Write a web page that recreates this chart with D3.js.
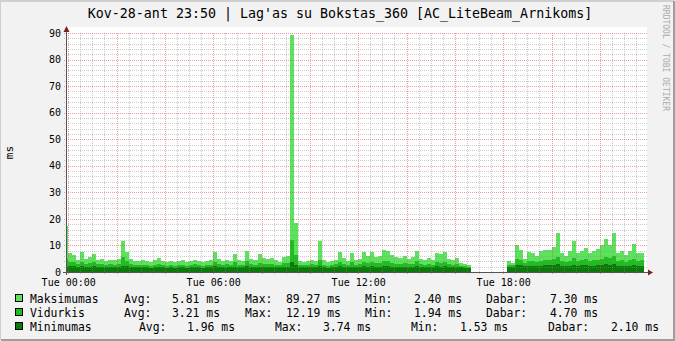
<!DOCTYPE html>
<html>
<head>
<meta charset="utf-8">
<script src="https://cdn.jsdelivr.net/npm/d3@7"></script>
<style>
  body { margin: 0; background: #f2f2f2; }
  svg { display: block; }
  text { font-family: "DejaVu Sans Mono", monospace; }
</style>
</head>
<body>
<div id="chart"></div>
<script>
// Samples every 10 minutes, first one starts at 23:50 the day before
const firstSample = new Date(2023, 2, 27, 23, 50);
const stepMinutes = 10;

const maxValues = [
  17.5,
  7.2, 6.5, 4.6, 7.4, 4.8, 5.5, 6.7, 4.5, 5.0, 4.2, 4.6, 4.4,
  5.0, 11.5, 7.5, 4.8, 4.2, 4.0, 4.6, 4.2, 3.8, 4.4, 5.4, 4.0,
  3.8, 4.2, 3.6, 4.0, 4.4, 3.8, 4.2, 4.6, 4.0, 3.6, 4.2, 4.6,
  7.4, 4.8, 4.2, 4.6, 4.0, 6.8, 4.4, 4.0, 7.8, 5.0, 4.4, 6.8,
  5.4, 4.8, 5.2, 4.4, 3.8, 5.8, 6.0, 89.27, 18.5, 4.2, 3.8, 4.0,
  4.7, 4.0, 11.6, 4.4, 3.6, 4.0, 4.6, 7.6, 5.2, 4.2, 7.2, 4.4,
  5.0, 7.6, 6.2, 7.4, 5.8, 6.0, 8.4, 8.0, 6.4, 5.6, 5.2, 6.0,
  5.0, 5.6, 8.0, 5.0, 4.6, 5.4, 4.4, 7.2, 6.6, 7.4, 5.0, 4.6,
  5.2, 3.4, 3.0, 2.6, null, null, null, null, null, null, null, null,
  null, 4.0, 3.4, 10.0, 8.4, 5.0, 7.6, 7.2, 6.0, 7.8, 8.2, 8.4,
  9.6, 14.6, 7.2, 6.2, 7.8, 11.6, 7.2, 7.8, 9.0, 7.2, 7.8, 8.6,
  10.0, 12.5, 10.3, 14.5, 7.2, 7.8, 6.5, 7.8, 10.7, 7.2, 7.3, null
];

const avgValues = [
  5.0,
  3.8, 3.6, 3.0, 3.8, 3.2, 3.4, 3.6, 3.0, 3.2, 2.8, 3.0, 2.8,
  3.0, 5.5, 4.0, 3.0, 2.8, 2.6, 2.8, 2.6, 2.4, 2.8, 3.2, 2.6,
  2.4, 2.6, 2.3, 2.5, 2.8, 2.4, 2.6, 2.9, 2.5, 2.3, 2.6, 2.8,
  3.8, 3.0, 2.6, 2.9, 2.6, 3.6, 2.8, 2.6, 4.0, 3.1, 2.8, 3.5,
  3.2, 3.0, 3.1, 2.8, 2.5, 3.3, 3.4, 12.19, 6.5, 2.8, 2.5, 2.6,
  2.9, 2.6, 4.5, 2.8, 2.4, 2.6, 2.9, 3.8, 3.1, 2.7, 3.6, 2.8,
  3.0, 3.8, 3.4, 3.7, 3.3, 3.4, 4.2, 4.0, 3.5, 3.2, 3.0, 3.4,
  3.0, 3.2, 4.0, 3.0, 2.8, 3.1, 2.7, 3.7, 3.5, 3.8, 3.0, 2.8,
  3.0, 2.4, 2.2, 1.94, null, null, null, null, null, null, null, null,
  null, 2.8, 2.5, 4.8, 4.4, 3.4, 4.2, 4.0, 3.6, 4.3, 4.5, 4.4,
  4.8, 5.6, 4.0, 3.8, 4.3, 5.2, 4.2, 4.4, 4.8, 4.1, 4.4, 4.6,
  5.0, 5.6, 5.2, 6.0, 4.2, 4.4, 3.9, 4.4, 5.0, 4.3, 4.7, null
];

const minValues = [
  2.0,
  2.2, 2.1, 1.9, 2.2, 2.0, 2.0, 2.1, 1.9, 1.9, 1.8, 1.9, 1.8,
  1.9, 2.4, 2.1, 1.8, 1.8, 1.7, 1.8, 1.7, 1.6, 1.8, 1.9, 1.7,
  1.6, 1.7, 1.6, 1.7, 1.8, 1.6, 1.7, 1.8, 1.7, 1.6, 1.7, 1.8,
  2.1, 1.9, 1.7, 1.8, 1.7, 2.0, 1.8, 1.7, 2.1, 1.9, 1.8, 2.0,
  1.9, 1.9, 1.9, 1.8, 1.7, 2.0, 2.0, 3.74, 2.6, 1.8, 1.7, 1.7,
  1.8, 1.7, 2.2, 1.8, 1.6, 1.7, 1.8, 2.1, 1.9, 1.8, 2.0, 1.8,
  1.9, 2.1, 2.0, 2.1, 2.0, 2.0, 2.3, 2.2, 2.0, 1.9, 1.9, 2.0,
  1.9, 1.9, 2.2, 1.9, 1.8, 1.9, 1.8, 2.1, 2.0, 2.1, 1.9, 1.8,
  1.9, 1.7, 1.6, 1.53, null, null, null, null, null, null, null, null,
  null, 2.0, 1.8, 2.6, 2.5, 2.1, 2.4, 2.3, 2.2, 2.4, 2.5, 2.5,
  2.7, 3.0, 2.3, 2.2, 2.4, 2.8, 2.4, 2.5, 2.6, 2.3, 2.4, 2.5,
  2.7, 2.9, 2.7, 3.1, 2.3, 2.4, 2.2, 2.4, 2.6, 2.3, 2.1, null
];

const seriesNames = ["Maksimumas", "Vidurkis", "Minimumas"];
const seriesColors = ["#5be35b", "#1fbd1f", "#0b7a0b"];
const statLabels = ["Avg:", "Max:", "Min:", "Dabar:"];
const statValues = [
  ["5.81 ms", "89.27 ms", "2.40 ms", "7.30 ms"],
  ["3.21 ms", "12.19 ms", "1.94 ms", "4.70 ms"],
  ["1.96 ms", "3.74 ms", "1.53 ms", "2.10 ms"]
];
const titleText = "Kov-28-ant 23:50 | Lag'as su Bokstas_360 [AC_LiteBeam_Arnikoms]";

const W = 675, H = 341;
const plot = { left: 67, right: 647, top: 33, bottom: 272 };

const svg = d3.select("#chart").append("svg")
  .attr("width", W)
  .attr("height", H);

// background and 3d frame
svg.append("rect").attr("width", W).attr("height", H).attr("fill", "#f2f2f2");
svg.append("path").attr("d", `M0,${H - 1}V1H${W - 1}`).attr("stroke", "#cfcfcf").attr("stroke-width", 2).attr("fill", "none");
svg.append("path").attr("d", `M1,${H - 1}H${W - 1}V1`).attr("stroke", "#9e9e9e").attr("stroke-width", 2).attr("fill", "none");

// scales
const dayStart = new Date(2023, 2, 28, 0, 0);
const x = d3.scaleTime()
  .domain([d3.timeMinute.offset(dayStart, -3), d3.timeMinute.offset(dayStart, 1437)])
  .range([plot.left, plot.right]);
const y = d3.scaleLinear().domain([0, 90]).range([plot.bottom, plot.top]);

// canvas
svg.append("rect")
  .attr("x", plot.left).attr("y", plot.top - 6)
  .attr("width", plot.right - plot.left).attr("height", plot.bottom - plot.top + 6)
  .attr("fill", "#ffffff");

svg.append("clipPath").attr("id", "clip")
  .append("rect")
  .attr("x", plot.left).attr("y", plot.top - 6)
  .attr("width", plot.right - plot.left).attr("height", plot.bottom - plot.top + 6);

// step areas, one flat piece per sample
function stepPoints(values) {
  const pts = [];
  values.forEach((v, k) => {
    const t0 = d3.timeMinute.offset(firstSample, k * stepMinutes);
    const t1 = d3.timeMinute.offset(firstSample, (k + 1) * stepMinutes);
    pts.push({ t: t0, v: v }, { t: t1, v: v });
  });
  return pts;
}

const area = d3.area()
  .defined(d => d.v != null)
  .x(d => x(d.t))
  .y0(y(0))
  .y1(d => y(d.v));

const gData = svg.append("g").attr("clip-path", "url(#clip)");
[maxValues, avgValues, minValues].forEach((vals, i) => {
  gData.append("path")
    .datum(stepPoints(vals))
    .attr("fill", seriesColors[i])
    .attr("shape-rendering", "crispEdges")
    .attr("d", area);
});

// grid on top of data like rrdtool
const grid = svg.append("g").attr("shape-rendering", "crispEdges");
const minorX = x.ticks(d3.timeMinute.every(30));
const majorX = x.ticks(d3.timeHour.every(2));
const isMajorX = t => majorX.some(m => +m === +t);

grid.selectAll(".vminor")
  .data(minorX.filter(t => !isMajorX(t)))
  .enter().append("line")
  .attr("x1", d => Math.round(x(d)) + 0.5).attr("x2", d => Math.round(x(d)) + 0.5)
  .attr("y1", plot.top).attr("y2", plot.bottom + 3)
  .attr("stroke", "rgba(140,140,140,0.45)")
  .attr("stroke-dasharray", "1,1");

grid.selectAll(".hminor")
  .data(d3.range(2, 92, 2).filter(v => v % 10 !== 0))
  .enter().append("line")
  .attr("x1", plot.left - 3).attr("x2", plot.right)
  .attr("y1", d => Math.round(y(d)) + 0.5).attr("y2", d => Math.round(y(d)) + 0.5)
  .attr("stroke", "rgba(140,140,140,0.45)")
  .attr("stroke-dasharray", "1,1");

grid.selectAll(".vmajor")
  .data(majorX)
  .enter().append("line")
  .attr("x1", d => Math.round(x(d)) + 0.5).attr("x2", d => Math.round(x(d)) + 0.5)
  .attr("y1", plot.top).attr("y2", plot.bottom + 3)
  .attr("stroke", "rgba(222,79,79,0.55)")
  .attr("stroke-dasharray", "1,1");

grid.selectAll(".hmajor")
  .data(d3.range(10, 100, 10))
  .enter().append("line")
  .attr("x1", plot.left - 3).attr("x2", plot.right)
  .attr("y1", d => Math.round(y(d)) + 0.5).attr("y2", d => Math.round(y(d)) + 0.5)
  .attr("stroke", "rgba(222,79,79,0.55)")
  .attr("stroke-dasharray", "1,1");

// axes lines and arrows
const ax = svg.append("g").attr("shape-rendering", "crispEdges");
ax.append("line")
  .attr("x1", plot.left - 4).attr("x2", plot.right + 3)
  .attr("y1", plot.bottom + 0.5).attr("y2", plot.bottom + 0.5)
  .attr("stroke", "#555");
ax.append("line")
  .attr("x1", plot.left - 0.5).attr("x2", plot.left - 0.5)
  .attr("y1", plot.bottom + 3).attr("y2", plot.top - 4)
  .attr("stroke", "#555");
svg.append("path")
  .attr("d", `M${plot.right + 1},${plot.bottom - 2.5}L${plot.right + 6},${plot.bottom + 0.5}L${plot.right + 1},${plot.bottom + 3.5}Z`)
  .attr("fill", "#801f1f");
svg.append("path")
  .attr("d", `M${plot.left - 3.5},${plot.top - 1}L${plot.left - 0.5},${plot.top - 7}L${plot.left + 2.5},${plot.top - 1}Z`)
  .attr("fill", "#801f1f");

// axis labels through d3 axes
const xAxis = svg.append("g")
  .attr("transform", `translate(0,${plot.bottom})`)
  .call(d3.axisBottom(x)
    .ticks(d3.timeHour.every(6))
    .tickSize(0)
    .tickPadding(7)
    .tickFormat(d3.timeFormat("%a %H:%M")));
xAxis.select(".domain").remove();
xAxis.selectAll("text").attr("font-size", 10).attr("font-family", "DejaVu Sans Mono").attr("fill", "#000");

const yAxis = svg.append("g")
  .attr("transform", `translate(${plot.left},0)`)
  .call(d3.axisLeft(y)
    .tickValues(d3.range(0, 100, 10))
    .tickSize(0)
    .tickPadding(6));
yAxis.select(".domain").remove();
yAxis.selectAll("text").attr("font-size", 10).attr("font-family", "DejaVu Sans Mono").attr("fill", "#000");

// y unit
svg.append("text")
  .attr("transform", `translate(13,${(plot.top + plot.bottom) / 2}) rotate(-90)`)
  .attr("text-anchor", "middle")
  .attr("font-size", 11)
  .text("ms");

// title
svg.append("text")
  .attr("x", 340).attr("y", 18)
  .attr("text-anchor", "middle")
  .attr("font-size", 13.3)
  .text(titleText);

// watermark
svg.append("text")
  .attr("transform", "translate(663,5) rotate(90)")
  .attr("font-size", 8)
  .attr("fill", "#aaaaaa")
  .text("RRDTOOL / TOBI OETIKER");

// legend
const rowY = [299, 313, 327];
const colX = [
  [124, 172, 245, 286, 365, 414, 486, 550],
  [124, 172, 245, 286, 365, 414, 486, 550],
  [139, 187, 275, 323, 411, 460, 548, 611]
];
seriesNames.forEach((name, i) => {
  const g = svg.append("g");
  g.append("rect")
    .attr("x", 15.5).attr("y", rowY[i] - 4.5)
    .attr("width", 7).attr("height", 7)
    .attr("fill", seriesColors[i])
    .attr("stroke", "#000");
  g.append("text").attr("x", 30).attr("y", rowY[i] + 4).attr("font-size", 11.4).text(name);
  statLabels.forEach((lab, j) => {
    g.append("text").attr("x", colX[i][2 * j]).attr("y", rowY[i] + 4).attr("font-size", 11.4).text(lab);
    g.append("text").attr("x", colX[i][2 * j + 1]).attr("y", rowY[i] + 4).attr("font-size", 11.4).text(statValues[i][j]);
  });
});
</script>
</body>
</html>
